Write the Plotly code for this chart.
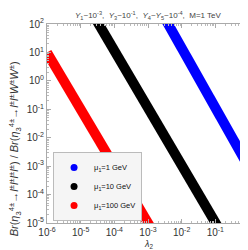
import plotly.graph_objects as go

# Data (band centre lines, log-log straight lines)
lam_blue = [1e-3, 1.0]
br_blue = [1.8e3, 9e-4]
lam_black = [1e-5, 1.0]
br_black = [1.2e3, 1e-7]
lam_red = [1e-6, 1e-2]
br_red = [10.0, 1e-7]

labels = ["μ<sub>1</sub>=1 GeV", "μ<sub>1</sub>=10 GeV", "μ<sub>1</sub>=100 GeV"]
colors = ["#0000ff", "#000000", "#ff0000"]

x_ticks = [1e-6, 1e-5, 1e-4, 1e-3, 1e-2, 1e-1, 1]
x_text = ["10<sup>-6</sup>", "10<sup>-5</sup>", "10<sup>-4</sup>", "10<sup>-3</sup>",
          "10<sup>-2</sup>", "10<sup>-1</sup>", "10<sup>0</sup>"]
y_ticks = [1e-5, 1e-4, 1e-3, 1e-2, 1e-1, 1, 10, 100]
y_text = ["10<sup>-5</sup>", "10<sup>-4</sup>", "10<sup>-3</sup>", "10<sup>-2</sup>",
          "10<sup>-1</sup>", "10<sup>0</sup>", "10<sup>1</sup>", "10<sup>2</sup>"]

fig = go.Figure()
for xs, ys, c in [(lam_blue, br_blue, colors[0]), (lam_black, br_black, colors[1]), (lam_red, br_red, colors[2])]:
    fig.add_trace(go.Scatter(x=xs, y=ys, mode="lines", line=dict(color=c, width=10),
                             showlegend=False, hoverinfo="skip"))
for lab, c in zip(labels, colors):
    fig.add_trace(go.Scatter(x=[None], y=[None], mode="markers", name=lab,
                             marker=dict(color=c, size=7)))

axis_common = dict(type="log", showgrid=False, zeroline=False, showline=True, linecolor="#aaaaaa",
                   linewidth=1, mirror="allticks", ticks="inside", ticklen=4, tickcolor="#aaaaaa",
                   tickfont=dict(family="Liberation Sans, Arial", size=10, color="#333333"),
                   minor=dict(ticks="inside", ticklen=2, tickcolor="#bbbbbb", dtick="D1"))

fig.update_xaxes(range=[-6, 0], tickvals=x_ticks, ticktext=x_text, **axis_common)
fig.update_yaxes(range=[-5, 2], tickvals=y_ticks, ticktext=y_text, **axis_common)

fig.update_layout(
    width=248, height=250,
    margin=dict(l=39, r=7, t=16, b=35),
    paper_bgcolor="white", plot_bgcolor="white",
    showlegend=True,
    legend=dict(x=0.03, y=0.01, xanchor="left", yanchor="bottom",
                bgcolor="#f5f5f5", bordercolor="#bbbbbb", borderwidth=1,
                font=dict(family="Liberation Sans, Arial", size=7.5, color="#111111"),
                itemwidth=30, tracegroupgap=0),
    annotations=[
        dict(text="<i>Y</i><sub>1</sub>~10<sup>-3</sup>,  <i>Y</i><sub>3</sub>~10<sup>-1</sup>,  "
                  "<i>Y</i><sub>4</sub>~<i>Y</i><sub>5</sub>~10<sup>-4</sup>,  M=1 TeV",
             x=0.5, y=1.0, xref="paper", yref="paper", xanchor="center", yanchor="bottom",
             yshift=1, showarrow=False,
             font=dict(family="Liberation Sans, Arial", size=8, color="#444444")),
        dict(text="<i>λ</i><sub>2</sub>", x=0.5, y=-0.11, xref="paper", yref="paper",
             xanchor="center", yanchor="middle", showarrow=False,
             font=dict(family="Liberation Sans, Arial", size=9, color="#333333")),
        dict(text="<i>Br</i>(<i>η</i><sub>3</sub><sup>4±</sup>→<i>l</i><sup>±</sup><i>l</i><sup>±</sup>"
                  "<i>l</i><sup>±</sup><i>l</i><sup>±</sup>) / <i>Br</i>(<i>η</i><sub>3</sub><sup>4±</sup>→"
                  "<i>l</i><sup>±</sup><i>l</i><sup>±</sup><i>W</i><sup>±</sup><i>W</i><sup>±</sup>)",
             x=0, y=0.37, xref="paper", yref="paper", xanchor="center", yanchor="middle",
             xshift=-32, textangle=-90, showarrow=False,
             font=dict(family="Liberation Sans, Arial", size=11, color="#333333")),
    ],
)

fig.write_html("out.html")
